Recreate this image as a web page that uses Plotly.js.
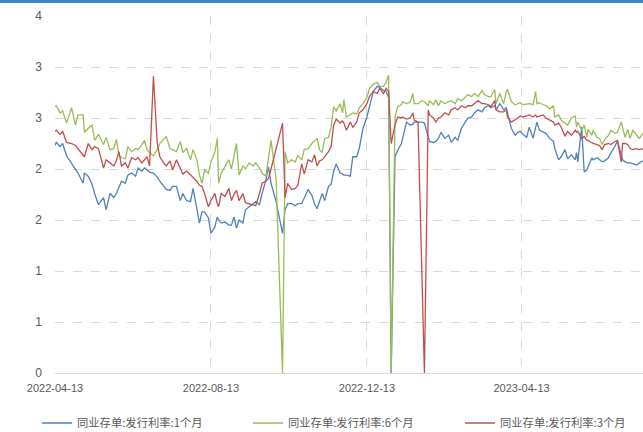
<!DOCTYPE html>
<html><head><meta charset="utf-8">
<script src="https://cdn.plot.ly/plotly-3.0.1.min.js"></script>
<style>
html,body{margin:0;padding:0;background:#fff;overflow:hidden}
#topbar{position:absolute;left:0;top:0;width:643px;height:3px;background:#3d85c6;z-index:10}
#chart{width:643px;height:432px}
</style></head>
<body><div id="topbar"></div><div id="chart"></div>
<script>
const startDate = '2022-04-13';
const endDate = '2023-07-17';
const seriesNames = ['同业存单:发行利率:1个月', '同业存单:发行利率:6个月', '同业存单:发行利率:3个月'];
const seriesColors = ['#4f81bd', '#9bbb59', '#c0504d'];
const xTickVals = ['2022-04-13', '2022-08-13', '2022-12-13', '2023-04-13'];
const yTickVals = [0, 0.5, 1, 1.5, 2, 2.5, 3, 3.5];
const yTickText = ['0', '1', '1', '2', '2', '3', '3', '4'];

// days after startDate
const dayOffsets = [
0,1,4,6,9,13,16,18,22,23,
26,29,31,34,38,40,43,46,48,50,
52,55,57,60,63,65,68,70,72,74,
77,80,82,85,87,90,92,95,98,100,
103,106,108,111,113,115,117,120,122,125,
127,128,130,133,136,138,140,142,144,147,
149,152,155,157,160,162,165,167,169,173,
178,180,182,185,188,190,193,195,198,201,
203,205,207,209,211,214,216,218,220,223,
225,226,228,231,233,236,238,241,244,246,
249,252,254,257,259,261,263,266,268,271,
272,275,278,280,281,284,287,289,292,293,
296,298,300,302,305,308,310,313,315,318,
321,323,326,328,331,334,336,339,341,344,
345,348,351,353,354,357,360,362,364,366,
369,371,374,376,377,379,382,384,387,390,
391,394,396,399,401,404,407,408,409,412,
414,416,417,420,421,424,426,428,430,433,
435,438,440,443,444,446,448,450,452,455,
457,460];

const rate1M = [
2.23,2.26,2.22,2.25,2.13,2.05,1.99,1.96,1.86,1.96,
1.93,1.85,1.76,1.65,1.72,1.60,1.76,1.72,1.76,1.83,
1.88,1.86,1.94,1.96,1.93,2.01,1.98,2.01,1.99,1.97,
1.96,1.92,1.88,1.83,1.80,1.79,1.83,1.83,1.69,1.76,
1.69,1.68,1.81,1.61,1.47,1.58,1.58,1.52,1.37,1.43,
1.53,1.50,1.47,1.48,1.45,1.45,1.53,1.42,1.50,1.47,
1.60,1.63,1.66,1.68,1.65,1.76,1.89,2.02,1.86,1.68,
1.37,1.60,1.66,1.66,1.64,1.66,1.66,1.72,1.80,1.74,
1.66,1.61,1.69,1.76,1.69,1.83,1.85,1.98,2.05,1.96,
1.95,1.94,1.94,1.93,2.12,2.12,2.20,2.40,2.51,2.62,
2.76,2.81,2.80,2.77,2.76,2.70,0,2.12,2.18,2.25,
2.30,2.46,2.43,2.44,2.46,2.46,2.46,2.45,2.32,2.27,
2.26,2.27,2.30,2.36,2.30,2.33,2.26,2.31,2.28,2.40,
2.46,2.50,2.51,2.55,2.58,2.56,2.60,2.62,2.60,2.62,
2.58,2.64,2.58,2.60,2.55,2.40,2.33,2.36,2.37,2.34,
2.31,2.41,2.30,2.42,2.46,2.38,2.36,2.35,2.30,2.27,
2.20,2.09,2.12,2.19,2.10,2.14,2.09,2.16,2.07,2.41,
1.97,1.99,2.02,2.11,2.09,2.11,2.09,2.07,2.08,2.11,
2.16,2.22,2.28,2.14,2.09,2.07,2.06,2.06,2.05,2.04,
2.06,2.08];

const rate6M = [
2.61,2.62,2.55,2.57,2.45,2.60,2.43,2.53,2.53,2.36,
2.40,2.43,2.28,2.34,2.24,2.31,2.19,2.20,2.29,2.14,
2.11,2.10,2.22,2.17,2.20,2.19,2.24,2.28,2.19,2.16,
2.13,2.19,2.25,2.29,2.32,2.20,2.19,2.17,2.27,2.16,
2.20,2.09,2.19,2.09,1.94,1.86,1.99,1.96,2.07,2.16,
2.30,1.86,1.96,2.03,2.09,2.00,2.11,2.25,1.94,2.03,
2.00,2.06,2.03,2.06,2.01,1.96,1.93,2.12,2.28,1.90,
0,2.17,2.06,2.09,2.07,2.13,2.09,2.19,2.20,2.25,
2.28,2.30,2.19,2.16,2.30,2.31,2.41,2.61,2.57,2.64,
2.55,2.68,2.51,2.53,2.55,2.54,2.60,2.64,2.70,2.79,
2.83,2.85,2.81,2.81,2.85,2.92,0,2.51,2.61,2.63,
2.66,2.64,2.66,2.74,2.64,2.64,2.67,2.66,2.62,2.67,
2.63,2.68,2.62,2.67,2.64,2.66,2.67,2.64,2.69,2.67,
2.71,2.73,2.71,2.74,2.71,2.77,2.73,2.71,2.71,2.78,
2.64,2.74,2.64,2.76,2.78,2.66,2.63,2.64,2.65,2.63,
2.64,2.64,2.63,2.76,2.64,2.65,2.63,2.62,2.59,2.62,
2.51,2.53,2.48,2.45,2.43,2.50,2.52,2.41,2.46,2.38,
2.43,2.31,2.39,2.33,2.38,2.31,2.30,2.24,2.29,2.33,
2.38,2.35,2.36,2.46,2.41,2.31,2.39,2.30,2.38,2.33,
2.30,2.35];

const rate3M = [
2.37,2.38,2.34,2.37,2.26,2.25,2.23,2.20,2.14,2.12,
2.25,2.19,2.22,2.20,2.01,2.09,2.06,2.03,2.08,2.17,
2.03,2.06,2.01,2.11,2.09,2.11,2.06,2.09,2.12,2.03,
2.91,2.25,2.12,2.06,2.03,2.08,1.99,2.09,2.01,1.95,
1.98,1.94,1.92,1.88,1.84,1.83,1.76,1.63,1.69,1.76,
1.66,1.63,1.76,1.73,1.81,1.69,1.75,1.79,1.69,1.76,
1.67,1.66,1.65,1.64,1.76,1.86,1.88,1.91,2.00,2.20,
2.45,1.72,1.86,1.80,1.81,1.84,2.05,1.95,2.09,2.07,
2.14,2.03,2.08,2.09,2.12,2.17,2.22,2.43,2.49,2.45,
2.47,2.45,2.38,2.46,2.41,2.46,2.55,2.58,2.64,2.71,
2.76,2.74,2.79,2.74,2.79,2.76,2.25,2.43,2.51,2.50,
2.51,2.49,2.50,2.55,2.48,2.46,null,0,2.58,2.53,
2.50,2.46,2.50,2.51,2.55,2.53,2.58,2.60,2.58,2.62,
2.60,2.62,2.62,2.64,2.67,2.64,2.64,2.63,2.61,2.67,
2.58,2.56,2.56,2.58,2.51,2.46,2.48,2.50,2.52,2.51,
2.52,2.53,2.51,2.53,2.51,2.52,2.53,2.50,2.48,2.46,
2.43,2.45,2.41,2.32,2.37,2.33,2.38,2.36,2.37,2.30,
2.32,2.28,2.28,2.26,2.25,2.24,2.23,2.19,2.24,2.25,
2.24,2.27,2.28,2.07,2.25,2.25,2.24,2.20,2.19,2.20,
2.19,2.20];

function toDate(off) {
  const d = new Date(startDate + 'T00:00:00Z');
  d.setUTCDate(d.getUTCDate() + off);
  return d.toISOString().slice(0, 10);
}
const dates = dayOffsets.map(toDate);
const values = [rate1M, rate6M, rate3M];
const legendIds = ['legend', 'legend2', 'legend3'];

const traces = values.map((v, i) => ({
  type: 'scatter', mode: 'lines', x: dates, y: v, name: seriesNames[i],
  line: {color: seriesColors[i], width: 1.3}, connectgaps: true,
  legend: legendIds[i]
}));

const axisFont = {family: 'Liberation Sans, Arial, sans-serif', size: 11, color: '#595959'};
const yFont = {family: 'Liberation Sans, Arial, sans-serif', size: 12, color: '#595959'};
const legendFont = {family: 'Noto Sans CJK SC, sans-serif', size: 11.3, color: '#595959'};

function legendAt(px) {
  return {
    orientation: 'h', xref: 'container', yref: 'container',
    x: px / 643, xanchor: 'left', y: 9 / 432, yanchor: 'middle',
    font: legendFont, bgcolor: 'rgba(0,0,0,0)'
  };
}

const layout = {
  width: 643, height: 432,
  margin: {l: 55, r: 0, t: 16, b: 59},
  paper_bgcolor: '#fff', plot_bgcolor: '#fff',
  showlegend: true,
  xaxis: {
    type: 'date', range: [startDate, endDate],
    tickvals: xTickVals, ticktext: xTickVals,
    showgrid: true, gridcolor: '#d9d9d9', griddash: 'dash', gridwidth: 1,
    showline: true, linecolor: '#d9d9d9', linewidth: 1,
    zeroline: false, ticks: '', tickfont: axisFont, ticklabelstandoff: 5
  },
  yaxis: {
    range: [0, 3.5], tickvals: yTickVals, ticktext: yTickText,
    showgrid: true, gridcolor: '#d9d9d9', griddash: 'dash', gridwidth: 1,
    zeroline: false, showline: false, ticks: '', tickfont: yFont,
    ticklabelstandoff: 12
  },
  legend: legendAt(37),
  legend2: legendAt(248),
  legend3: legendAt(460)
};

Plotly.newPlot('chart', traces, layout, {staticPlot: true, displayModeBar: false});
</script>
</body></html>
